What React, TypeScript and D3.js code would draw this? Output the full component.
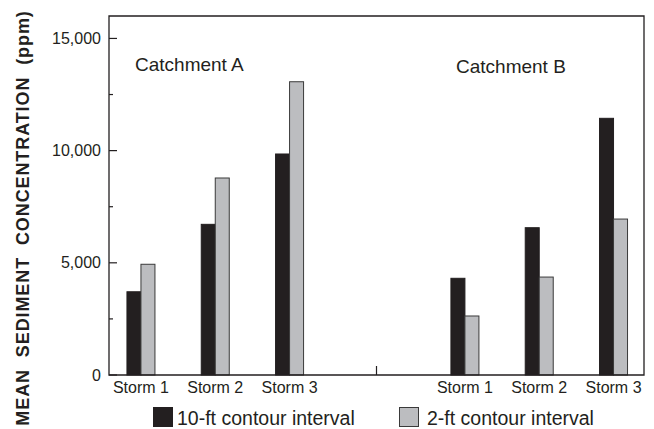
import React from "react";
import * as d3 from "d3";

const storms = ["Storm 1", "Storm 2", "Storm 3"];
const catchments = ["Catchment A", "Catchment B"];
const series = ["10-ft contour interval", "2-ft contour interval"];
const catchmentA10ft = [3710, 6715, 9850];
const catchmentA2ft = [4935, 8780, 13070];
const catchmentB10ft = [4310, 6565, 11440];
const catchmentB2ft = [2630, 4365, 6950];
const yTicks = [0, 5000, 10000, 15000];
const yMinorTicks = [2500, 7500, 12500];

const W = 654;
const H = 429;
const left = 109;
const right = 644;
const top = 16;
const bottom = 375;
const ink = "#231f20";
const grayFill = "#bcbdc0";
const font = "'Liberation Sans', Arial, Helvetica, sans-serif";

export default function App() {
  const y = d3.scaleLinear().domain([0, 16000]).range([bottom, top]);
  const x = d3.scaleLinear().domain([0, 7.2]).range([left, right]);
  const catchOffset = [0.43, 4.79];
  const data = [
    [catchmentA10ft, catchmentA2ft],
    [catchmentB10ft, catchmentB2ft],
  ];
  const barW = 14;
  const fmt = d3.format(",");

  const bars: any[] = [];
  const labels: any[] = [];
  catchments.forEach((c, ci) => {
    storms.forEach((s, si) => {
      const cx = x(catchOffset[ci] + si);
      labels.push(
        <text key={`l${ci}${si}`} x={cx} y={393} textAnchor="middle" fontSize={16} fill={ink} fontFamily={font}>
          {s}
        </text>
      );
      data[ci].forEach((vals, k) => {
        const v = vals[si];
        const bx = k === 0 ? cx - barW : cx;
        bars.push(
          <rect
            key={`b${ci}${si}${k}`}
            x={bx}
            y={y(v)}
            width={barW}
            height={bottom - y(v)}
            fill={k === 0 ? ink : grayFill}
            stroke={k === 0 ? ink : "#3a3a3a"}
            strokeWidth={1}
          />
        );
      });
    });
  });

  return (
    <svg
      width={W}
      height={H}
      style={{ position: "fixed", left: 0, top: 0, background: "#fff" }}
      fontFamily={font}
    >
      <rect x={0} y={0} width={W} height={H} fill="#fff" />
      {bars}
      <path
        d={`M${left},${top}H${right}V${bottom}H${left}Z`}
        fill="none"
        stroke={ink}
        strokeWidth={1.3}
      />
      <line x1={x(3.6)} x2={x(3.6)} y1={bottom} y2={bottom - 9} stroke={ink} strokeWidth={1.2} />
      {yTicks.map((t) => (
        <g key={t}>
          <line x1={left} x2={left + 8} y1={y(t)} y2={y(t)} stroke={ink} strokeWidth={1.2} />
          <text x={101} y={y(t)} dy="0.35em" textAnchor="end" fontSize={16} fill={ink}>
            {fmt(t)}
          </text>
        </g>
      ))}
      {yMinorTicks.map((t) => (
        <line key={t} x1={left} x2={left + 4} y1={y(t)} y2={y(t)} stroke={ink} strokeWidth={1.2} />
      ))}
      {labels}
      <text x={135} y={70.5} fontSize={19} fill={ink}>
        {catchments[0]}
      </text>
      <text x={456} y={72.5} fontSize={19} fill={ink}>
        {catchments[1]}
      </text>
      <text
        transform={`translate(28.5,218) rotate(-90)`}
        textAnchor="middle"
        fontSize={18}
        fontWeight="bold"
        letterSpacing={0.9}
        wordSpacing={6}
        fill={ink}
      >
        MEAN SEDIMENT CONCENTRATION (ppm)
      </text>
      <rect x={153.5} y={407.5} width={19} height={19} fill={ink} stroke={ink} />
      <text x={177} y={425} fontSize={19.5} fill={ink}>
        {series[0]}
      </text>
      <rect x={399.5} y={407.5} width={19} height={19} fill={grayFill} stroke="#3a3a3a" />
      <text x={427} y={425} fontSize={19.5} fill={ink}>
        {series[1]}
      </text>
    </svg>
  );
}
